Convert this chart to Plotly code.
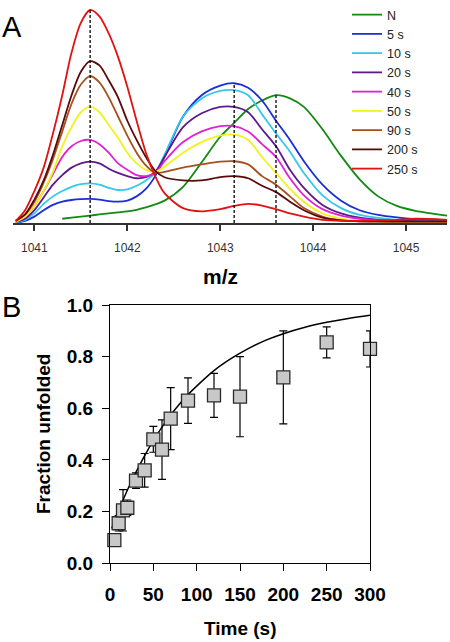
import plotly.graph_objects as go

# ---------------- Panel A data (m/z spectra, relative intensity) ----------------
mz = [1040.8, 1040.9, 1041.0, 1041.1, 1041.2, 1041.3, 1041.4, 1041.5, 1041.6, 1041.7,
      1041.8, 1041.9, 1042.0, 1042.1, 1042.2, 1042.3, 1042.4, 1042.6, 1042.8, 1043.0,
      1043.15, 1043.3, 1043.45, 1043.6, 1043.75, 1043.9, 1044.1, 1044.3, 1044.5, 1044.7,
      1044.9, 1045.1, 1045.44]

series_names = ["N", "5 s", "10 s", "20 s", "40 s", "50 s", "90 s", "200 s", "250 s"]
series_colors = ["#138a13", "#1a2fd6", "#33c8ec", "#5e1a8c", "#e021d4", "#f2f21c",
                 "#a8501c", "#5a0a0a", "#e01212"]

int_N = [None, None, None, None, None, 0.02, 0.025, 0.03, 0.035, 0.04,
         0.045, 0.05, 0.055, 0.062, 0.073, 0.087, 0.105, 0.17, 0.285, 0.405,
         0.47, 0.535, 0.575, 0.60, 0.585, 0.545, 0.44, 0.315, 0.205, 0.125,
         0.08, 0.057, 0.035]
int_5 = [0.0, 0.01, 0.03, 0.06, 0.085, 0.10, 0.108, 0.112, 0.113, 0.11,
         0.103, 0.10, 0.105, 0.125, 0.16, 0.22, 0.31, 0.50, 0.60, 0.645,
         0.656, 0.635, 0.575, 0.48, 0.39, 0.29, 0.18, 0.105, 0.06, 0.038,
         0.026, 0.018, 0.01]
int_10 = [0.003, 0.015, 0.045, 0.09, 0.125, 0.15, 0.17, 0.182, 0.186, 0.18,
          0.165, 0.155, 0.158, 0.175, 0.20, 0.235, 0.32, 0.50, 0.585, 0.62,
          0.624, 0.60, 0.51, 0.42, 0.335, 0.235, 0.13, 0.07, 0.038, 0.024,
          0.015, 0.01, 0.008]
int_20 = [0.005, 0.02, 0.06, 0.12, 0.18, 0.225, 0.26, 0.28, 0.288, 0.28,
          0.255, 0.235, 0.22, 0.21, 0.215, 0.24, 0.31, 0.45, 0.515, 0.545,
          0.545, 0.52, 0.44, 0.36, 0.25, 0.165, 0.085, 0.045, 0.025, 0.015,
          0.01, 0.008, 0.006]
int_40 = [0.005, 0.03, 0.08, 0.15, 0.23, 0.31, 0.36, 0.385, 0.39, 0.37,
          0.33, 0.28, 0.25, 0.225, 0.22, 0.235, 0.29, 0.38, 0.43, 0.455,
          0.455, 0.43, 0.37, 0.31, 0.21, 0.13, 0.065, 0.035, 0.02, 0.012,
          0.008, 0.006, 0.005]
int_50 = [0.005, 0.03, 0.08, 0.15, 0.24, 0.36, 0.45, 0.52, 0.545, 0.52,
          0.46, 0.40, 0.33, 0.28, 0.25, 0.24, 0.265, 0.33, 0.38, 0.41,
          0.415, 0.39, 0.31, 0.235, 0.16, 0.10, 0.045, 0.02, 0.01, 0.008,
          0.006, 0.005, 0.005]
int_90 = [0.01, 0.04, 0.10, 0.19, 0.30, 0.43, 0.56, 0.65, 0.69, 0.66,
          0.59, 0.50, 0.41, 0.33, 0.27, 0.235, 0.24, 0.26, 0.275, 0.288,
          0.29, 0.275, 0.22, 0.18, 0.125, 0.07, 0.03, 0.012, 0.008, 0.006,
          0.005, 0.005, 0.005]
int_200 = [0.01, 0.04, 0.11, 0.20, 0.32, 0.46, 0.60, 0.71, 0.76, 0.74,
           0.67, 0.59, 0.48, 0.39, 0.31, 0.245, 0.215, 0.20, 0.20, 0.215,
           0.22, 0.21, 0.175, 0.145, 0.10, 0.06, 0.025, 0.012, 0.008, 0.008,
           0.008, 0.008, 0.008]
int_250 = [0.01, 0.06, 0.15, 0.26, 0.42, 0.60, 0.80, 0.94, 1.00, 0.97,
           0.89, 0.78, 0.64, 0.48, 0.33, 0.22, 0.14, 0.07, 0.055, 0.065,
           0.08, 0.09, 0.082, 0.065, 0.045, 0.03, 0.015, 0.01, 0.01, 0.012,
           0.015, 0.02, 0.015]
series_values = [int_N, int_5, int_10, int_20, int_40, int_50, int_90, int_200, int_250]

peak_mz = [1041.6, 1043.15, 1043.6]
peak_height = [1.0, 0.656, 0.60]

mz_ticks = [1041, 1042, 1043, 1044, 1045]

# ---------------- Panel B data (fraction unfolded vs time) ----------------
time_s = [5, 10, 15, 20, 30, 40, 50, 60, 70, 90, 120, 150, 200, 250, 300]
frac_unfolded = [0.09, 0.155, 0.205, 0.215, 0.32, 0.36, 0.48, 0.44, 0.56, 0.63,
                 0.65, 0.645, 0.72, 0.855, 0.83]
frac_err = [0.02, 0.03, 0.08, 0.03, 0.03, 0.065, 0.05, 0.115, 0.12, 0.088,
            0.085, 0.155, 0.18, 0.06, 0.07]

fit_time = [2, 10, 20, 30, 40, 50, 60, 70, 80, 90, 100, 120, 140, 160, 180,
            200, 225, 250, 275, 300]
fit_frac = [0.135, 0.205, 0.283, 0.353, 0.417, 0.475, 0.527, 0.574, 0.616, 0.653,
            0.686, 0.746, 0.793, 0.832, 0.864, 0.889, 0.914, 0.933, 0.948, 0.96]

time_ticks = [0, 50, 100, 150, 200, 250, 300]
frac_ticks = [0.0, 0.2, 0.4, 0.6, 0.8, 1.0]

# ---------------- Layout helpers ----------------
W, H = 450, 642
def px_x(p):
    return p / W
def px_y(p):
    return 1 - p / H

FONT = "Liberation Sans, Arial, sans-serif"

fig = go.Figure()

for name, color, vals in zip(series_names, series_colors, series_values):
    fig.add_trace(go.Scatter(
        x=mz, y=vals, mode="lines", name=name,
        line=dict(color=color, width=1.8, shape="spline", smoothing=0.8),
        xaxis="x", yaxis="y", connectgaps=False,
    ))

dx, dy = [], []
for m, h in zip(peak_mz, peak_height):
    dx += [m, m, None]
    dy += [0, h, None]
fig.add_trace(go.Scatter(
    x=dx, y=dy, mode="lines", showlegend=False,
    line=dict(color="black", width=1.3, dash="3px,2px"),
    xaxis="x", yaxis="y",
))

fig.add_trace(go.Scatter(
    x=fit_time, y=fit_frac, mode="lines", showlegend=False,
    line=dict(color="black", width=1.5, shape="spline"),
    xaxis="x2", yaxis="y2",
))
fig.add_trace(go.Scatter(
    x=time_s, y=frac_unfolded, mode="markers", showlegend=False,
    marker=dict(symbol="square", size=13, color="#c8c8c8",
                line=dict(color="#2a2a2a", width=1.3)),
    error_y=dict(type="data", array=frac_err, color="black", thickness=1.2, width=4),
    xaxis="x2", yaxis="y2", cliponaxis=False,
))

a_top = 223 - 1.03 * 213

def label(text, x, y, size, bold=False, angle=0):
    f = dict(size=size, family=FONT, color="black")
    if bold:
        f["weight"] = "bold"
    return dict(text=text, x=px_x(x), y=px_y(y), xref="paper", yref="paper",
                xanchor="center", yanchor="middle", textangle=angle,
                showarrow=False, font=f)

fig.update_layout(
    width=W, height=H,
    margin=dict(l=0, r=0, t=0, b=0, pad=0, autoexpand=False),
    paper_bgcolor="white", plot_bgcolor="white",
    font=dict(family=FONT, color="black"),
    showlegend=True,
    legend=dict(x=px_x(347), y=px_y(0), xanchor="left", yanchor="top",
                font=dict(size=12.5, color="#222222", family=FONT),
                bgcolor="rgba(0,0,0,0)", tracegroupgap=0, itemwidth=30),
    xaxis=dict(domain=[px_x(13), px_x(447)], range=[1040.77, 1045.44],
               anchor="y", tickvals=mz_ticks, showgrid=False, zeroline=False,
               showline=True, linecolor="#333333", linewidth=1.5, automargin=False,
               ticks="outside", ticklen=6, tickwidth=1.5, tickcolor="#333333",
               ticklabelstandoff=7,
               tickfont=dict(size=12, color="#333333", family=FONT)),
    yaxis=dict(domain=[px_y(223), px_y(a_top)], range=[0, 1.03],
               anchor="x", visible=False, automargin=False),
    xaxis2=dict(domain=[px_x(110), px_x(370)], range=[0, 300], anchor="y2",
                tickvals=time_ticks, showgrid=False, zeroline=False, automargin=False,
                showline=True, mirror=True, linecolor="black", linewidth=1.3,
                ticks="outside", ticklen=7, tickwidth=1.3, tickcolor="black",
                ticklabelstandoff=7,
                tickfont=dict(size=19, color="black", family=FONT, weight="bold")),
    yaxis2=dict(domain=[px_y(563.3), px_y(305)], range=[0, 1], anchor="x2",
                tickvals=frac_ticks, tickformat=".1f", showgrid=False, zeroline=False,
                showline=True, mirror=True, linecolor="black", linewidth=1.3,
                ticks="outside", ticklen=7, tickwidth=1.3, tickcolor="black",
                ticklabelstandoff=5, automargin=False,
                tickfont=dict(size=19, color="black", family=FONT, weight="bold")),
    annotations=[
        label("A", 12, 27, 29),
        label("B", 11, 307, 29),
        label("m/z", 220, 276, 21, bold=True),
        label("Time (s)", 240, 628, 19, bold=True),
        label("Fraction unfolded", 43, 434, 19, bold=True, angle=-90),
    ],
)

fig.write_html(
    "out.html",
    config={"displayModeBar": False},
    post_script="document.body.style.margin='0';document.body.style.overflow='hidden';",
)
